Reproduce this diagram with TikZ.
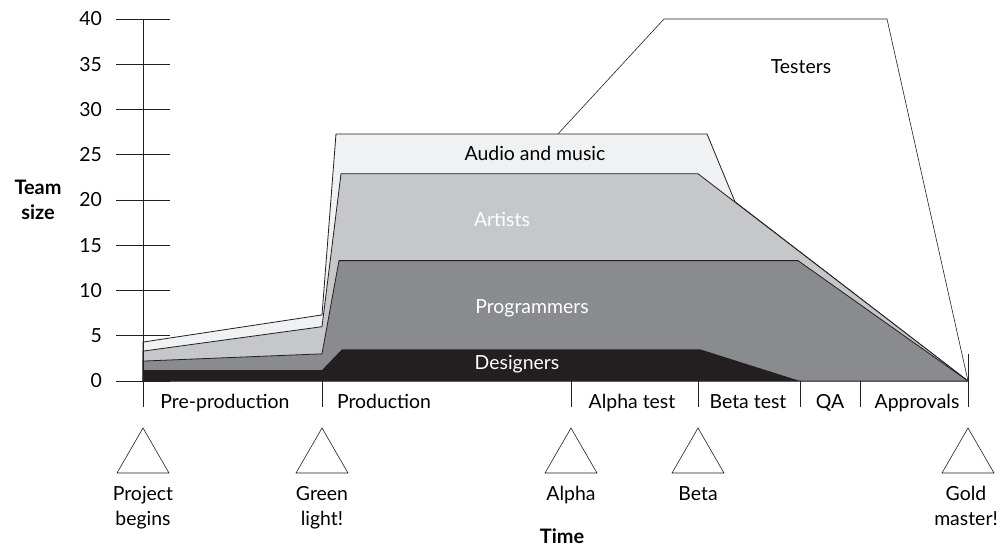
\documentclass[tikz,border=0pt]{standalone}
\usepackage{fontspec}
\setmainfont{Lato}
\usetikzlibrary{shapes.geometric}
\definecolor{caudio}{HTML}{F0F1F2}
\definecolor{cartist}{HTML}{C6C7C9}
\definecolor{cprog}{HTML}{8A8B8E}
\definecolor{cdesign}{HTML}{231F20}
\definecolor{cline}{HTML}{231F20}
\tikzstyle{l1}=[line width=0.8bp, draw=cline]
\tikzstyle{band}=[l1, line join=miter]
\tikzstyle{txt}=[font=\fontsize{19.5}{25}\selectfont, inner sep=0pt]
\tikzstyle{wtxt}=[txt, text=white]
\tikzstyle{btxt}=[txt, font=\fontsize{20}{25}\selectfont\bfseries, align=center]
\tikzstyle{milestone}=[regular polygon, regular polygon sides=3, minimum size=60bp, inner sep=0pt, draw=cline, line width=0.6bp]
\tikzstyle{mlabel}=[txt, align=center, anchor=north]

\begin{document}
\begin{tikzpicture}[x=1bp, y=1bp]
    \useasboundingbox (0,0) rectangle (1004,547);

    % the team bands, back to front
    \begin{scope}[yshift=166bp, y=9.05bp]
        \draw[l1, line width=0.6bp] (558,27.3) -- (664,40) -- (887,40) -- (968,0);
        \filldraw[band, fill=caudio] (143,0) -- (143,4.3) -- (322,7.3) -- (336,27.3) -- (707,27.3) -- (735,19.8) -- (968,0) -- cycle;
        \filldraw[band, fill=cartist] (143,0) -- (143,3.3) -- (322,6.0) -- (341,22.9) -- (698,22.9) -- (968,0) -- cycle;
        \filldraw[band, fill=cprog] (143,0) -- (143,2.2) -- (322,3.0) -- (339,13.3) -- (798,13.3) -- (968,0) -- cycle;
        \fill[cdesign] (143,0) -- (143,1.2) -- (322,1.2) -- (342,3.5) -- (700,3.5) -- (800,0) -- cycle;

        \node[txt] (ntest) at (801,34.7) {Testers};
        \node[txt] (naudio) at (535,25.1) {Audio and music};
        \node[wtxt] (nart) at (502,17.9) {Artists};
        \node[wtxt] (nprog) at (532,8.0) {Programmers};
        \node[wtxt] (ndes) at (517,1.9) {Designers};

        % axis
        \draw[l1] (143,40) -- (143,-2.87);
        \foreach \v in {0,5,...,40} {
            \draw[l1] (116,\v) -- (170,\v);
            \node[txt, anchor=east] (t\v) at (102,\v) {\v};
        }
    \end{scope}

    \node[btxt] (nteam) at (38,347) {Team\\size};
    \node[btxt] (ntime) at (562,11) {Time};

    % phases
    \foreach \x in {322,571,698,800,860} \draw[l1] (\x,166) -- (\x,140);
    \draw[l1] (968,193) -- (968,140);
    \foreach \x/\n/\t in {225/ppre/Pre-production,384/pprod/Production,632/palpha/Alpha test,748/pbeta/Beta test,830/pqa/QA,917/pappr/Approvals}
        \node[txt, anchor=base] (\n) at (\x,138) {\t};

    % milestones
    \foreach \x/\n in {143/mbeg,322/mgreen,571/malpha,698/mbeta,968/mgold}
        \node[milestone] (\n) at (\x,89) {};
    \node[mlabel] (lbeg) at (143,61) {Project\\begins};
    \node[mlabel] (lgreen) at (322,61) {Green\\light!};
    \node[mlabel] (lalpha) at (571,61) {Alpha};
    \node[mlabel] (lbeta) at (698,61) {Beta};
    \node[mlabel] (lgold) at (966,61) {Gold\\master!};
\end{tikzpicture}
\end{document}
